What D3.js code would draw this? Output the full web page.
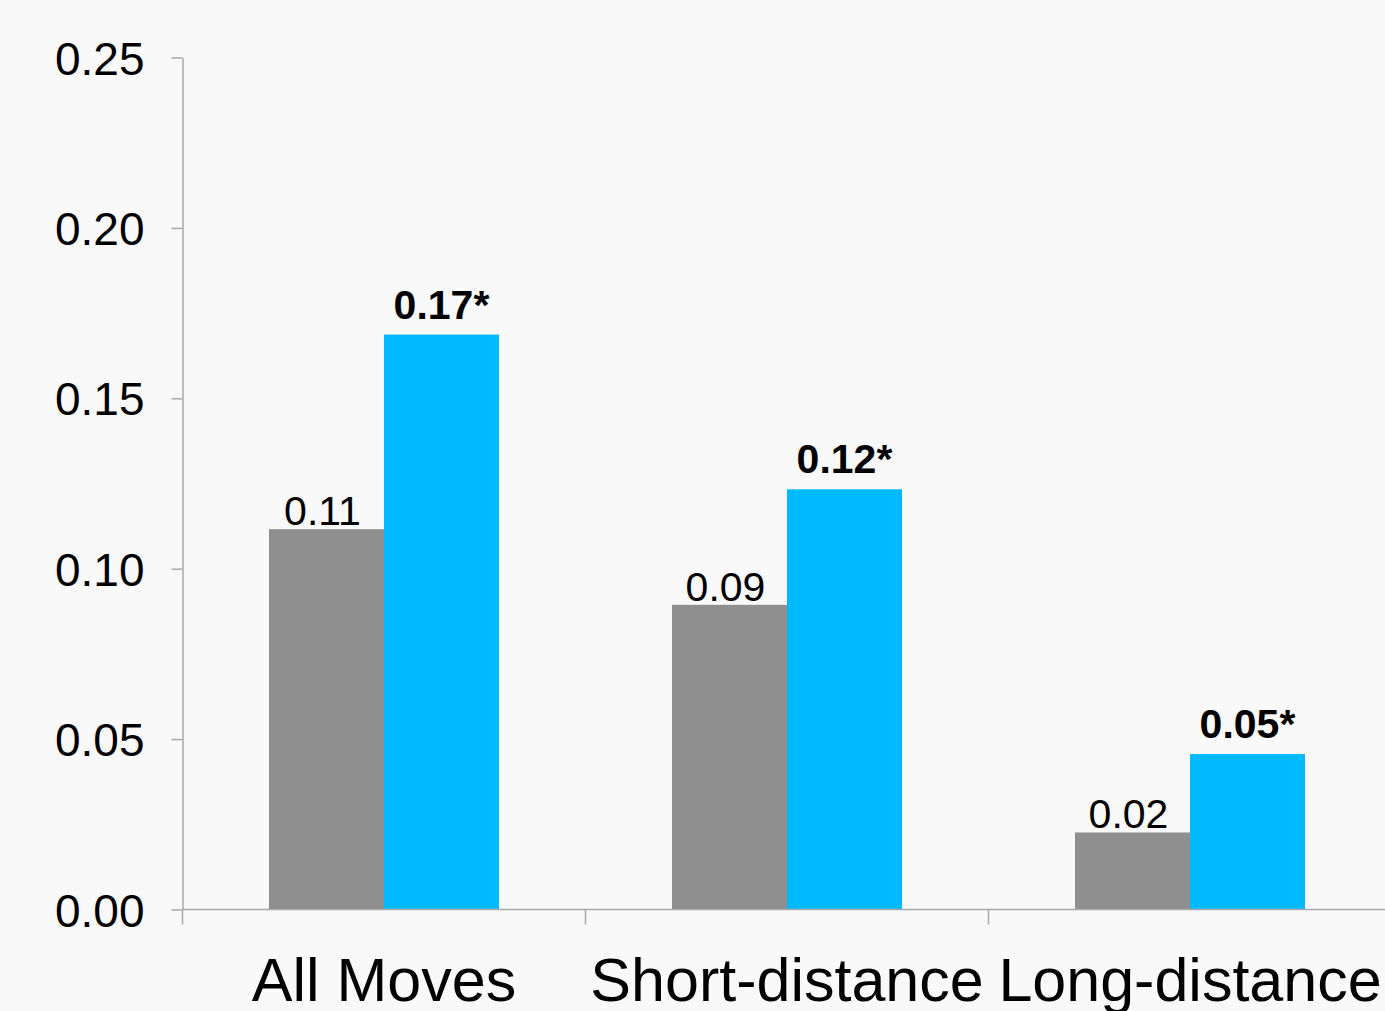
<!DOCTYPE html>
<html>
<head>
<meta charset="utf-8">
<script src="https://cdn.jsdelivr.net/npm/d3@7"></script>
<style>
  html, body { margin: 0; padding: 0; background: #f9f9f9; }
  svg { display: block; font-family: "Liberation Sans", Arial, Helvetica, sans-serif; }
</style>
</head>
<body>
<svg id="chart" width="1385" height="1011"></svg>
<script>
// Move categories and the two compared series
const categories = ["All Moves", "Short-distance", "Long-distance"];
const seriesKeys = ["baseline", "treatment"];
const baselineValues = [0.1116, 0.0894, 0.0226];
const treatmentValues = [0.1687, 0.1233, 0.0456];
// Treatment differences marked as significant
const treatmentSignificant = [true, true, true];
const yTickValues = [0.00, 0.05, 0.10, 0.15, 0.20, 0.25];

const colors = { baseline: "#8f8f8f", treatment: "#00b9ff" };
const axisColor = "#a8a8a8";

const svg = d3.select("#chart");
const W = 1385, H = 1011;
const plot = { left: 182.5, top: 57.5, bottom: 909.5, bandStep: 403 };

const x = d3.scaleBand()
  .domain(categories)
  .range([plot.left, plot.left + plot.bandStep * categories.length])
  .paddingInner(0).paddingOuter(0);

const xSub = d3.scaleBand()
  .domain(seriesKeys)
  .range([0, x.bandwidth()])
  .paddingInner(0)
  .paddingOuter(0.752);

const y = d3.scaleLinear().domain([0, 0.25]).range([plot.bottom, plot.top]);

const rows = categories.map((c, i) => ({
  category: c,
  bars: [
    { key: "baseline", value: baselineValues[i], sig: false },
    { key: "treatment", value: treatmentValues[i], sig: treatmentSignificant[i] }
  ]
}));

// Bars
const groups = svg.append("g").selectAll("g")
  .data(rows).join("g")
  .attr("transform", d => `translate(${x(d.category)},0)`);

groups.selectAll("rect")
  .data(d => d.bars).join("rect")
  .attr("x", d => xSub(d.key))
  .attr("width", xSub.bandwidth())
  .attr("y", d => y(d.value))
  .attr("height", d => y(0) - y(d.value))
  .attr("fill", d => colors[d.key]);

// Value labels
const fmt = d3.format(".2f");
groups.selectAll("text")
  .data(d => d.bars).join("text")
  .attr("x", d => xSub(d.key) + xSub.bandwidth() / 2 + (d.key === "baseline" ? -4 : 0))
  .attr("y", d => y(d.value) - (d.key === "baseline" ? 4 : 16))
  .attr("text-anchor", "middle")
  .attr("font-size", d => d.key === "baseline" ? 41 : 41)
  .attr("font-weight", d => d.key === "baseline" ? "normal" : "bold")
  .attr("fill", "#000")
  .text(d => fmt(d.value) + (d.sig ? "*" : ""));

// Y axis
const yAxis = svg.append("g")
  .attr("transform", `translate(${plot.left},0)`)
  .call(d3.axisLeft(y).tickValues(yTickValues).tickFormat(fmt).tickSize(11).tickPadding(27).tickSizeOuter(0));
yAxis.select(".domain").attr("stroke", axisColor).attr("stroke-width", 1.5);
yAxis.selectAll(".tick line").attr("stroke", axisColor).attr("stroke-width", 1.5);
yAxis.selectAll(".tick text")
  .attr("font-size", 46)
  .attr("font-family", "Liberation Sans, Arial, sans-serif")
  .attr("fill", "#000")
  .attr("dy", "0.36em");

// X axis: baseline line, boundary ticks and category labels
const xAxis = svg.append("g")
  .attr("transform", `translate(0,${plot.bottom})`)
  .call(d3.axisBottom(x).tickSize(0).tickPadding(60).tickSizeOuter(0));
xAxis.select(".domain")
  .attr("d", `M${plot.left},0H${W}`)
  .attr("stroke", axisColor).attr("stroke-width", 1.5);
xAxis.selectAll(".tick text")
  .attr("font-size", 61)
  .attr("font-family", "Liberation Sans, Arial, sans-serif")
  .attr("fill", "#000")
  .attr("dy", "0.71em")
  .attr("y", 48);

xAxis.append("g").selectAll("line")
  .data(categories).join("line")
  .attr("x1", d => x(d)).attr("x2", d => x(d))
  .attr("y1", 0).attr("y2", 15)
  .attr("stroke", axisColor).attr("stroke-width", 1.5);
</script>
</body>
</html>
